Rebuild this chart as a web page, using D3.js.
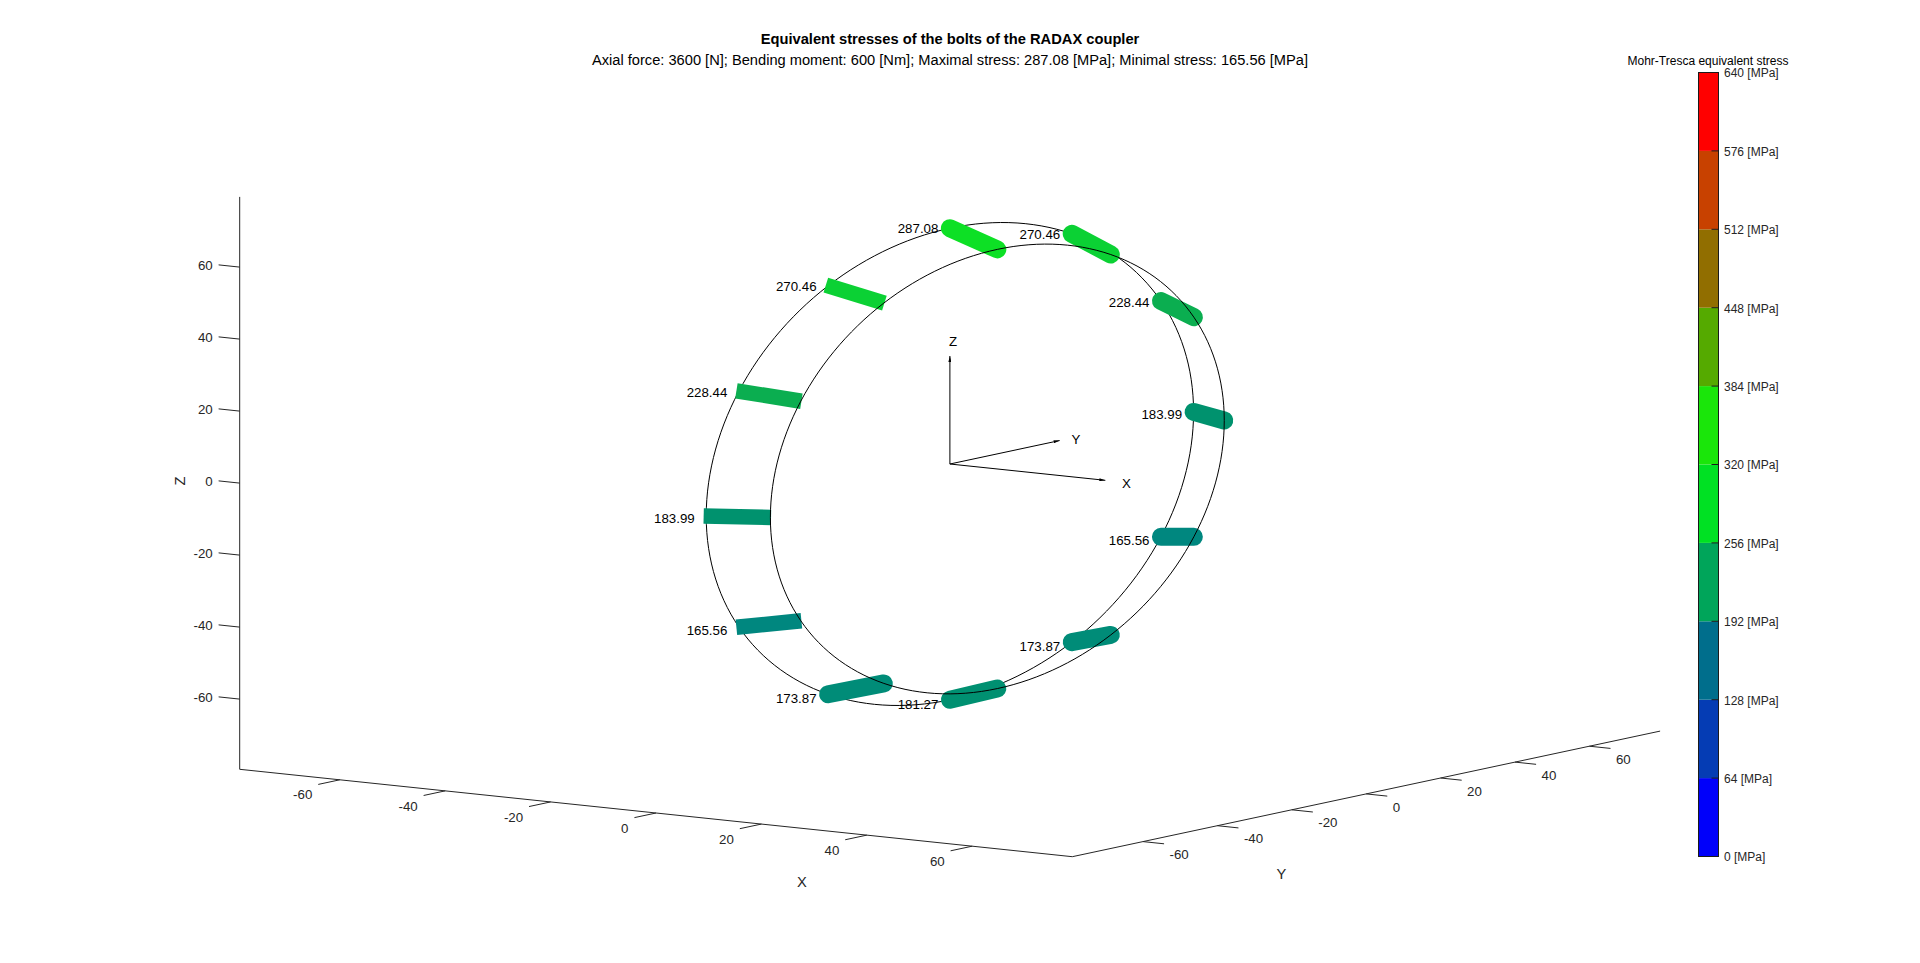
<!DOCTYPE html>
<html>
<head>
<meta charset="utf-8">
<title>RADAX coupler bolts</title>
<script src="https://d3js.org/d3.v7.min.js"></script>
<style>
    body { margin: 0; background: #fff; }
    svg { display: block; font-family: "Liberation Sans", Arial, sans-serif; }
    .tick { font-size: 13.3px; fill: #262626; }
    .axisTitle { font-size: 14.7px; fill: #262626; }
    .boltLabel { font-size: 13.3px; fill: #000; }
</style>
</head>
<body>
<script>
// bolt data, going round the ring (angle in degrees from +Y towards +Z)
var boltAngles = [90, 60, 30, 0, -30, -60, -90, -120, -150, 180, 150, 120];
var boltStress = [287.08, 270.46, 228.44, 183.99, 165.56, 173.87, 181.27, 173.87, 165.56, 183.99, 228.44, 270.46];
var flatEndAngles = [180, 150, 120, -150];

// the two circles the bolts run between
var backRing = {x: 0, r: 65.5};
var frontRing = {x: 9, r: 61};

var axisTicks = [-60, -40, -20, 0, 20, 40, 60];
var zTicks = [60, 40, 20, 0, -20, -40, -60];

// colorbar
var barTicks = [0, 64, 128, 192, 256, 320, 384, 448, 512, 576, 640];
var barColors = ["#0000fa", "#053cb4", "#006e8c", "#00a55a", "#00e123", "#1ae60a", "#55aa00", "#916e00", "#c84100", "#ff0000"];

// colours of the bolts
var stressStops = [165.56, 173.87, 183.99, 228.44, 270.46, 287.08];
var stressColors = ["#00877f", "#008c78", "#00926e", "#0bae50", "#0bd134", "#0de025"];

var width = 1920, height = 963;
var lim = 79, zLim = 79.5;
var originX = 949.9, originY = 464;

// axonometric view: every data axis has its own screen scale
var xH = d3.scaleLinear().domain([-lim, lim]).range([-416.3, 416.3]);
var xV = d3.scaleLinear().domain([-lim, lim]).range([-43.7, 43.7]);
var yH = d3.scaleLinear().domain([-lim, lim]).range([-293.9, 293.9]);
var yV = d3.scaleLinear().domain([-lim, lim]).range([62.8, -62.8]);
var zV = d3.scaleLinear().domain([-zLim, zLim]).range([286.2, -286.2]);

function project(x, y, z) {
    return [originX + xH(x) + yH(y), originY + xV(x) + yV(y) + zV(z)];
}
function onRing(ring, deg) {
    var t = deg * Math.PI / 180;
    return project(ring.x, ring.r * Math.cos(t), ring.r * Math.sin(t));
}

var svg = d3.select("body").append("svg")
    .attr("width", width)
    .attr("height", height);

var defs = svg.append("defs");
defs.append("marker")
    .attr("id", "tip")
    .attr("viewBox", "0 0 6 3")
    .attr("refX", 6).attr("refY", 1.5)
    .attr("markerWidth", 6).attr("markerHeight", 3)
    .attr("markerUnits", "userSpaceOnUse")
    .attr("orient", "auto")
    .append("path")
    .attr("d", "M0,0L6,1.5L0,3Z");

var line = d3.line();

function segment(a, b, color) {
    return svg.append("path")
        .attr("d", line([a, b]))
        .attr("fill", "none")
        .attr("stroke", color)
        .attr("stroke-width", 1);
}
function label(p, txt, cls) {
    return svg.append("text")
        .attr("class", cls)
        .attr("x", p[0])
        .attr("y", p[1])
        .attr("dy", "0.35em")
        .text(txt);
}

// axes
var axisColor = "#262626";
segment(project(-lim, -lim, -zLim), project(lim, -lim, -zLim), axisColor);
segment(project(lim, -lim, -zLim), project(lim, lim, -zLim), axisColor);
segment(project(-lim, -lim, -zLim), project(-lim, -lim, zLim), axisColor);

axisTicks.forEach(function(v) {
    // X axis
    var a = project(v, -lim, -zLim);
    segment(a, project(v, -lim - 5.8, -zLim), axisColor);
    label([a[0] - 27.5, a[1] + 15], v, "tick").attr("text-anchor", "end");
    // Y axis
    var b = project(lim, v, -zLim);
    segment(b, project(lim + 4, v, -zLim), axisColor);
    label([b[0] + 26.5, b[1] + 13], v, "tick");
});
zTicks.forEach(function(v) {
    var c = project(-lim, -lim, v);
    segment(c, project(-lim - 4, -lim, v), axisColor);
    label([c[0] - 27, c[1] - 2], v, "tick").attr("text-anchor", "end");
});

label([802, 881.5], "X", "axisTitle").attr("text-anchor", "middle");
label([1281.4, 873.5], "Y", "axisTitle").attr("text-anchor", "middle");
svg.append("text")
    .attr("class", "axisTitle")
    .attr("text-anchor", "middle")
    .attr("transform", "translate(180,481) rotate(-90)")
    .attr("dy", "0.35em")
    .text("Z");

// small triad at the origin
[[29.5, 0, 0, "X", 1126.5, 483.5], [0, 29.5, 0, "Y", 1076, 439], [0, 0, 30, "Z", 953, 341]].forEach(function(d) {
    segment(project(0, 0, 0), project(d[0], d[1], d[2]), "#000").attr("marker-end", "url(#tip)");
    label([d[4], d[5]], d[3], "boltLabel").attr("text-anchor", "middle");
});

// back circle goes under the bolts, front circle over them
var ringAngles = d3.range(0, 361, 2);
function drawRing(ring) {
    svg.append("path")
        .attr("d", line(ringAngles.map(function(a) { return onRing(ring, a); })))
        .attr("fill", "none")
        .attr("stroke", "#000")
        .attr("stroke-width", 1);
}
drawRing(backRing);

var stressColor = d3.scaleLinear().domain(stressStops).range(stressColors);

function isFlat(a) { return flatEndAngles.indexOf(a) >= 0; }

// the flat ended ones stick out a little past the circles
function boltPath(a) {
    var p = onRing(backRing, a), q = onRing(frontRing, a);
    if (!isFlat(a)) return line([p, q]);
    var dx = q[0] - p[0], dy = q[1] - p[1];
    return line([[p[0] - 0.04 * dx, p[1] - 0.04 * dy], [q[0] + 0.01 * dx, q[1] + 0.01 * dy]]);
}

svg.selectAll(".bolt")
    .data(boltAngles)
    .join("path")
    .attr("class", "bolt")
    .attr("d", boltPath)
    .attr("fill", "none")
    .attr("stroke-width", function(a) { return isFlat(a) ? 15.5 : 18; })
    .attr("stroke-linecap", function(a) { return isFlat(a) ? "butt" : "round"; })
    .attr("stroke", function(a, i) { return stressColor(boltStress[i]); });

drawRing(frontRing);

boltAngles.forEach(function(a, i) {
    var p = onRing(backRing, a);
    // labels sit a bit lower towards the bottom of the ring
    var drop = 2.3 - 1.8 * Math.sin(a * Math.PI / 180);
    label([p[0] - 11.5, p[1] + drop], boltStress[i].toFixed(2), "boltLabel").attr("text-anchor", "end");
});

// titles
svg.append("text")
    .attr("x", 950).attr("y", 39).attr("dy", "0.35em")
    .attr("text-anchor", "middle")
    .style("font-size", "14.7px").style("font-weight", "bold")
    .text("Equivalent stresses of the bolts of the RADAX coupler");
svg.append("text")
    .attr("x", 950).attr("y", 60).attr("dy", "0.35em")
    .attr("text-anchor", "middle")
    .style("font-size", "14.65px")
    .text("Axial force: 3600 [N]; Bending moment: 600 [Nm]; Maximal stress: 287.08 [MPa]; Minimal stress: 165.56 [MPa]");

// colorbar
var barY = d3.scaleLinear().domain([0, 640]).range([856.5, 72.5]);
var barLeft = 1698.5, barRight = 1718.5;

svg.selectAll(".band")
    .data(barColors)
    .join("rect")
    .attr("class", "band")
    .attr("x", barLeft)
    .attr("width", barRight - barLeft)
    .attr("y", function(d, i) { return barY(barTicks[i + 1]); })
    .attr("height", function(d, i) { return barY(barTicks[i]) - barY(barTicks[i + 1]); })
    .attr("fill", function(d) { return d; });

svg.append("rect")
    .attr("x", barLeft).attr("y", barY(640))
    .attr("width", barRight - barLeft).attr("height", barY(0) - barY(640))
    .attr("fill", "none")
    .attr("stroke", "#1a1a1a");

barTicks.forEach(function(v) {
    segment([barRight - 7, barY(v)], [barRight, barY(v)], "#1a1a1a");
    label([1724, barY(v) + 0.7], v + " [MPa]", "tick").style("font-size", "12px");
});

svg.append("text")
    .attr("x", 1708).attr("y", 61).attr("dy", "0.35em")
    .attr("text-anchor", "middle")
    .style("font-size", "12px")
    .text("Mohr-Tresca equivalent stress");
</script>
</body>
</html>
